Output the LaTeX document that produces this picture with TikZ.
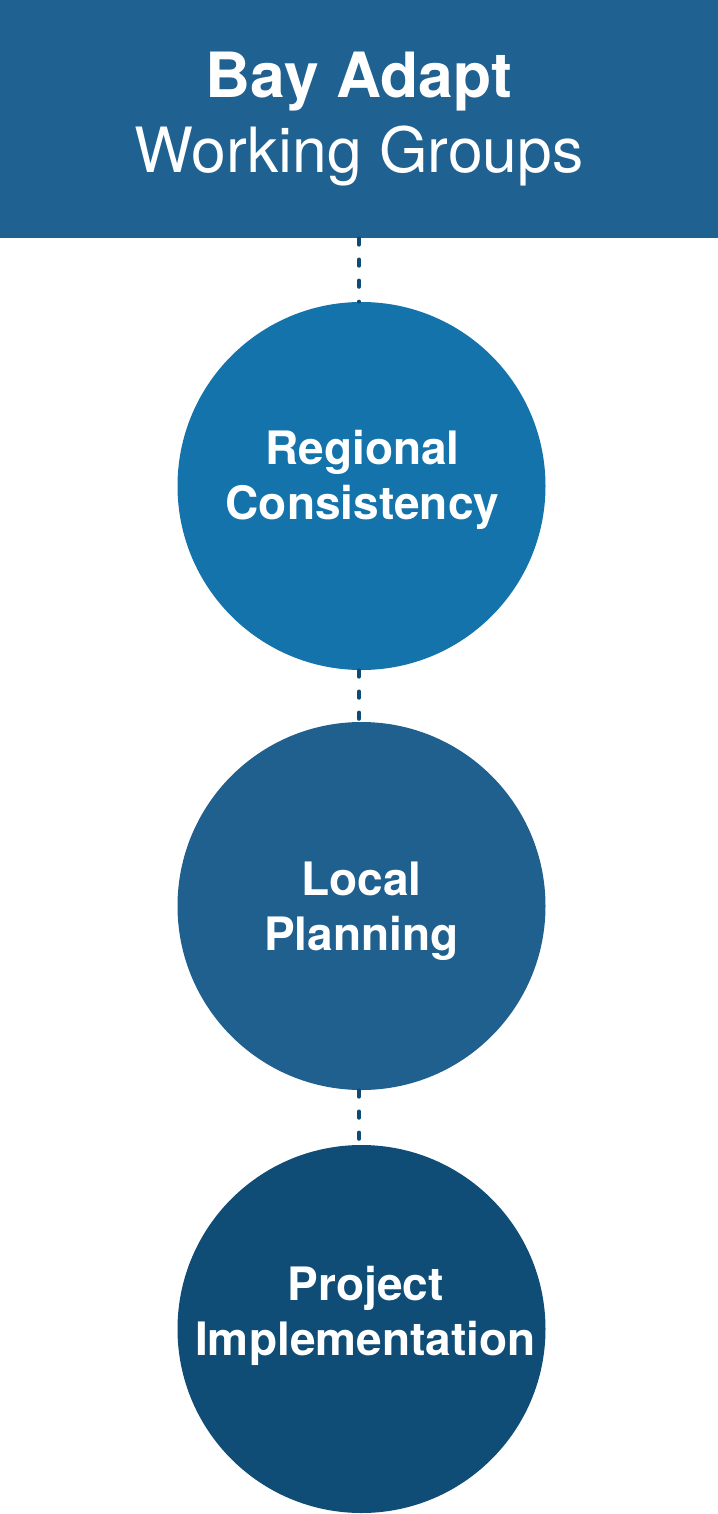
\documentclass[tikz,border=0pt]{standalone}
\usepackage{fontspec}
\setmainfont{TeX Gyre Heros}
\usepackage{tikz}
\usetikzlibrary{positioning}
\usetikzlibrary{calc}

\definecolor{hdrblue}{HTML}{1F6190}
\definecolor{regblue}{HTML}{1473AA}
\definecolor{locblue}{HTML}{1F608F}
\definecolor{prjblue}{HTML}{0F4D76}
\definecolor{dashblue}{HTML}{0E4A73}

\begin{document}
\begin{tikzpicture}[
    % group circles (same size, different blues)
    grp/.style={circle, draw=none, minimum size=7.36cm, inner sep=0pt},
    grptext/.style={anchor=north, inner sep=0pt, align=center, text=white,
                    font=\fontsize{26.2pt}{31.3pt}\selectfont\bfseries},
    hdr/.style={rectangle, fill=hdrblue, draw=none, minimum width=14.36cm,
                minimum height=4.76cm, inner sep=0pt, align=center, text=white,
                font=\fontsize{35.5pt}{42.7pt}\selectfont},
    link/.style={draw=dashblue, line width=2.2pt, line cap=round,
                 dash pattern=on 3.6pt off 8.4pt},
]
\useasboundingbox (0,0) rectangle (14.36,-30.28);

% -------------------------
% Header bar
% -------------------------
\node[hdr] (top) at (7.18,-2.38) {\textbf{Bay Adapt}\\Working Groups};

% -------------------------
% Working group circles
% -------------------------
\node[grp, fill=regblue] (c1) at (7.23, -9.72) {};
\node[grp, fill=locblue] (c2) at (7.23,-18.12) {};
\node[grp, fill=prjblue] (c3) at (7.23,-26.58) {};

\node[grptext] (t1) at (7.25, -8.60) {Regional\\Consistency};
\node[grptext] (t2) at (7.23,-17.24) {Local\\Planning};
\node[grptext] (t3) at (7.31,-25.32) {Project\\Implementation};

% -------------------------
% Dotted links between levels
% -------------------------
\draw[link] (top.south) -- (top.south |- c1.north);
\draw[link] (top.south |- c1.south) -- (top.south |- c2.north);
\draw[link] (top.south |- c2.south) -- (top.south |- c3.north);

\end{tikzpicture}
\end{document}
